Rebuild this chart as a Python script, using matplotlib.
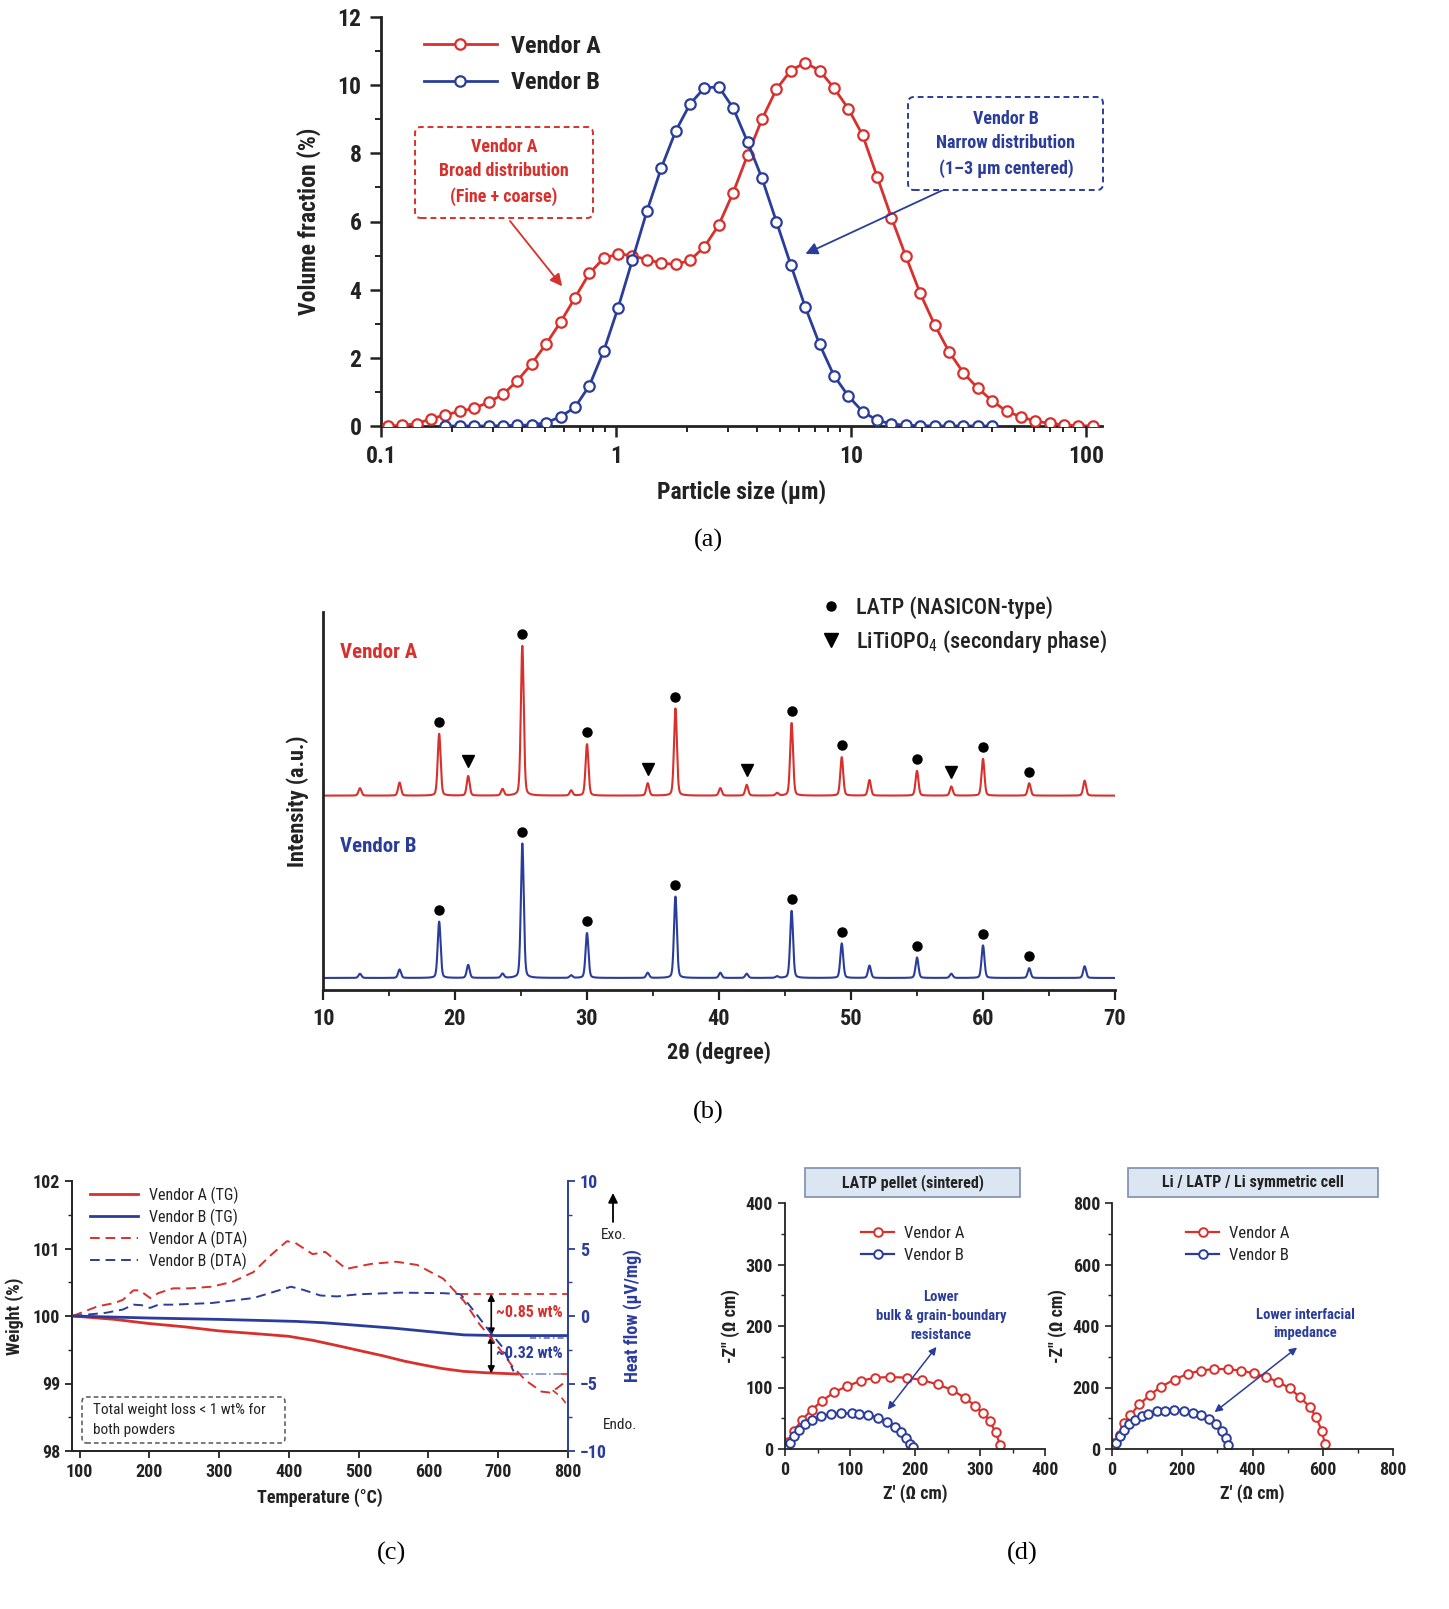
import numpy as np
import matplotlib
matplotlib.use("Agg")
import matplotlib.pyplot as plt
from matplotlib import font_manager
from matplotlib.patches import FancyBboxPatch, Rectangle
from matplotlib.lines import Line2D
from matplotlib.ticker import MultipleLocator, LogLocator, NullFormatter

# ---------------- fonts ----------------
_names = {f.name for f in font_manager.fontManager.ttflist}
SANS = next((n for n in ["Roboto Condensed", "Liberation Sans Narrow", "Roboto", "Liberation Sans", "DejaVu Sans"] if n in _names), "DejaVu Sans")
SERIF = next((n for n in ["Liberation Serif", "DejaVu Serif"] if n in _names), "DejaVu Serif")
plt.rcParams["font.family"] = [SANS, "DejaVu Sans"]
plt.rcParams["mathtext.fontset"] = "custom"
plt.rcParams["mathtext.rm"] = SANS

RED = "#d8302c"
BLUE = "#2b3d9b"
DARK = "#222222"

# ---------------- data (a) particle size distribution ----------------
size_um = np.geomspace(0.107, 107, 50)
vendorA_vol = [0.0, 0.02, 0.07, 0.21, 0.33, 0.43, 0.52, 0.70, 0.93, 1.33,
               1.83, 2.41, 3.05, 3.76, 4.48, 4.92, 5.05, 5.00, 4.88, 4.78,
               4.74, 4.86, 5.26, 5.90, 6.85, 7.95, 9.00, 9.88, 10.43, 10.66,
               10.43, 9.92, 9.31, 8.53, 7.32, 6.11, 4.98, 3.89, 2.97, 2.18,
               1.56, 1.11, 0.74, 0.43, 0.27, 0.14, 0.08, 0.03, 0.01, 0.0]
vendorB_vol = [np.nan, np.nan, np.nan, np.nan, 0.0, 0.0, 0.0, 0.0, 0.01, 0.02,
               0.03, 0.10, 0.27, 0.55, 1.18, 2.20, 3.47, 4.88, 6.30, 7.57,
               8.65, 9.45, 9.92, 9.95, 9.33, 8.33, 7.27, 6.00, 4.73, 3.50,
               2.40, 1.48, 0.88, 0.42, 0.17, 0.06, 0.02, 0.01, 0.0, 0.0,
               0.0, 0.0, 0.0, np.nan, np.nan, np.nan, np.nan, np.nan, np.nan, np.nan]

# ---------------- data (b) XRD ----------------
peak_2theta = [12.8, 15.8, 18.8, 21.0, 23.6, 25.1, 28.8, 30.0, 34.6, 36.7, 40.1,
               42.1, 44.4, 45.5, 49.3, 51.4, 55.0, 57.6, 60.0, 63.5, 67.7]
peak_A = [23, 40, 190, 60, 20, 460, 16, 158, 38, 268, 23,
          33, 8, 223, 118, 48, 76, 28, 113, 38, 46]
peak_B = [13, 26, 173, 40, 13, 413, 8, 138, 16, 250, 16,
          13, 5, 206, 106, 38, 63, 13, 100, 30, 36]
latp_peaks = [18.8, 25.1, 30.0, 36.7, 45.5, 49.3, 55.0, 60.0, 63.5]
litiopo4_peaks = [21.0, 34.6, 42.1, 57.6]
offset_A = 560

# ---------------- data (c) TG / DTA ----------------
T_tgA = [90, 150, 198, 250, 299, 350, 399, 434, 470, 500, 535, 566, 595, 621, 650, 681, 705, 728]
W_tgA = [100.0, 99.95, 99.89, 99.84, 99.78, 99.74, 99.70, 99.64, 99.56, 99.49, 99.41, 99.33, 99.27, 99.22, 99.18, 99.16, 99.15, 99.14]
T_tgB = [90, 200, 300, 410, 450, 500, 550, 590, 620, 651, 699, 750, 800]
W_tgB = [100.0, 99.97, 99.95, 99.92, 99.90, 99.86, 99.82, 99.78, 99.75, 99.72, 99.71, 99.71, 99.71]
T_dtaA = [90, 108, 126, 150, 162, 177, 186, 201, 213, 234, 258, 289, 319, 349, 373, 397, 409,
          434, 452, 482, 518, 554, 584, 621, 651, 673, 690, 706, 720, 739, 762, 774, 784, 793, 800]
H_dtaA = [0.0, 0.36, 0.72, 0.96, 1.2, 1.9, 1.9, 1.33, 1.7, 2.05, 2.05, 2.17, 2.53, 3.25, 4.46, 5.54, 5.42,
          4.58, 4.75, 3.49, 3.86, 4.02, 3.78, 2.77, 1.1, -0.6, -1.67, -2.7, -3.7, -4.76, -5.6, -5.67, -5.36, -5.0, -4.83]
T_dtaA_branch = [778, 790, 800]
H_dtaA_branch = [-5.5, -6.0, -6.67]
T_dtaB = [90, 138, 162, 177, 189, 201, 213, 234, 289, 349, 379, 403, 421, 445, 469, 500,
          560, 621, 646, 669, 690, 706, 722]
H_dtaB = [0.0, 0.24, 0.48, 0.84, 0.8, 0.6, 0.84, 0.84, 0.96, 1.33, 1.8, 2.17, 1.93, 1.52, 1.45, 1.61,
          1.73, 1.69, 1.62, 0.12, -1.3, -2.3, -4.1]
ref_level_dta = 1.64
loss_A_label = "~0.85 wt%"
loss_B_label = "~0.32 wt%"

# ---------------- data (d) impedance ----------------
pel_A_re = [0, 5, 14, 26, 41, 57, 75, 95, 117, 139, 162, 188, 211, 235, 257, 277, 293, 305, 315, 324, 331]
pel_A_im = [0, 12, 30, 47, 64, 78, 92, 102, 111, 116, 117, 116, 112, 105, 96, 83, 70, 58, 46, 27, 7]
pel_B_re = [1, 7, 14, 22, 31, 41, 55, 70, 86, 103, 114, 128, 143, 157, 169, 179, 186, 193, 197]
pel_B_im = [1, 10, 21, 31, 41, 47, 53, 57, 58, 58, 57, 55, 51, 44, 36, 28, 18, 8, 3]
sym_A_re = [4, 7, 22, 35, 51, 78, 109, 140, 178, 215, 252, 290, 329, 367, 404, 439, 474, 507, 535, 563, 581, 598, 606]
sym_A_im = [5, 21, 47, 83, 109, 145, 177, 203, 226, 244, 255, 260, 260, 255, 246, 234, 218, 197, 168, 137, 104, 57, 16]
sym_B_re = [4, 10, 22, 35, 47, 66, 84, 103, 128, 152, 177, 205, 230, 252, 277, 296, 312, 324, 329]
sym_B_im = [2, 21, 42, 62, 81, 94, 106, 114, 122, 125, 127, 125, 117, 109, 97, 80, 59, 36, 12]

# ---------------- figure ----------------
W, H = 1449, 1609
fig = plt.figure(figsize=(W / 100, H / 100), dpi=100)
fig.patch.set_facecolor("white")


def fx(x):
    return x / W


def fy(y):
    return 1 - y / H


def rect(l, t, r, b):
    return [fx(l), fy(b), fx(r) - fx(l), fy(t) - fy(b)]


def style_axes(ax, lw=1.6, color=DARK):
    for s in ["top", "right"]:
        ax.spines[s].set_visible(False)
    for s in ["left", "bottom"]:
        ax.spines[s].set_linewidth(lw)
        ax.spines[s].set_color(color)


# ===== (a) =====
axa = fig.add_axes(rect(381, 17, 1102, 426))
style_axes(axa, lw=2.0)
axa.plot(size_um, vendorA_vol, "-o", color=RED, lw=2.0, ms=7.5, mfc="white", mew=1.6, label="Vendor A", zorder=3)
axa.plot(size_um, vendorB_vol, "-o", color=BLUE, lw=2.0, ms=7.5, mfc="white", mew=1.6, label="Vendor B", zorder=4)
axa.set_xscale("log")
axa.set_xlim(0.1, 117)
axa.set_ylim(0, 12)
axa.yaxis.set_major_locator(MultipleLocator(2))
axa.yaxis.set_minor_locator(MultipleLocator(1))
axa.xaxis.set_minor_locator(LogLocator(base=10, subs=np.arange(2, 10), numticks=20))
axa.xaxis.set_minor_formatter(NullFormatter())
axa.set_xticks([0.1, 1, 10, 100])
axa.set_xticklabels(["0.1", "1", "10", "100"])
axa.tick_params(axis="both", which="major", length=8, width=1.8, labelsize=17, pad=6, colors=DARK)
axa.tick_params(axis="both", which="minor", length=4.5, width=1.4, colors=DARK)
for lab in axa.get_xticklabels() + axa.get_yticklabels():
    lab.set_fontweight("bold")
axa.set_xlabel("Particle size (µm)", fontsize=17, fontweight="bold", labelpad=8, color=DARK)
axa.set_ylabel("Volume fraction (%)", fontsize=17, fontweight="bold", labelpad=12, color=DARK)
leg = axa.legend(loc="upper left", bbox_to_anchor=(fx(402), fy(13)), bbox_transform=fig.transFigure,
                 frameon=False, fontsize=17.5, handlelength=3.0, handletextpad=0.6, labelspacing=0.55)
for t in leg.get_texts():
    t.set_fontweight("bold")
    t.set_color(DARK)

# annotation boxes
for (l, t, r, b, col) in [(415, 127, 593, 218, RED), (908, 97, 1103, 190, BLUE)]:
    p = FancyBboxPatch((fx(l), fy(b)), fx(r) - fx(l), fy(t) - fy(b),
                       boxstyle="round,pad=0,rounding_size=0.004", transform=fig.transFigure,
                       fc="white", ec=col, lw=1.4, ls=(0, (3, 2)), zorder=5)
    fig.add_artist(p)
fig.text(fx(504), fy(172), "Vendor A\nBroad distribution\n(Fine + coarse)", ha="center", va="center",
         fontsize=13, fontweight="bold", color=RED, linespacing=1.45, zorder=6)
fig.text(fx(1006), fy(144), "Vendor B\nNarrow distribution\n(1–3 µm centered)", ha="center", va="center",
         fontsize=13, fontweight="bold", color=BLUE, linespacing=1.45, zorder=6)
axa.annotate("", xy=(0.59, 4.1), xycoords="data", xytext=(fx(510), fy(221)), textcoords="figure fraction",
             arrowprops=dict(arrowstyle="-|>", color=RED, lw=1.3, mutation_scale=18, shrinkA=0, shrinkB=0))
axa.annotate("", xy=(6.4, 5.05), xycoords="data", xytext=(fx(943), fy(190)), textcoords="figure fraction",
             arrowprops=dict(arrowstyle="-|>", color=BLUE, lw=1.3, mutation_scale=18, shrinkA=0, shrinkB=0))

# ===== (b) =====
axb = fig.add_axes(rect(323, 612, 1115, 990))
style_axes(axb, lw=2.0)
tt = np.linspace(10, 70, 6000)


def pattern(heights):
    y = np.zeros_like(tt)
    for c, h in zip(peak_2theta, heights):
        w = 0.13
        lor = 1 / (1 + ((tt - c) / w) ** 2)
        gau = np.exp(-np.log(2) * ((tt - c) / w) ** 2)
        y += h * (0.25 * lor + 0.75 * gau)
    return y


yA = pattern(peak_A) + offset_A
yB = pattern(peak_B)
axb.plot(tt, yA, color=RED, lw=1.5)
axb.plot(tt, yB, color=BLUE, lw=1.5)
for c in latp_peaks:
    i = peak_2theta.index(c)
    axb.plot(c, peak_A[i] + offset_A + 36, "o", color="black", ms=6.5)
    axb.plot(c, peak_B[i] + 36, "o", color="black", ms=6.5)
for c in litiopo4_peaks:
    i = peak_2theta.index(c)
    axb.plot(c, peak_A[i] + offset_A + 45, "v", color="black", ms=8.5)
axb.set_xlim(10, 70)
axb.set_ylim(-37, 1124)
axb.set_yticks([])
axb.xaxis.set_major_locator(MultipleLocator(10))
axb.xaxis.set_minor_locator(MultipleLocator(5))
axb.tick_params(axis="x", which="major", length=7, width=1.6, labelsize=16, pad=6, colors=DARK)
axb.tick_params(axis="x", which="minor", length=4, width=1.3, colors=DARK)
for lab in axb.get_xticklabels():
    lab.set_fontweight("bold")
axb.set_xlabel("2θ (degree)", fontsize=16, fontweight="bold", labelpad=8, color=DARK)
axb.set_ylabel("Intensity (a.u.)", fontsize=16, fontweight="bold", labelpad=10, color=DARK)
axb.text(fx(340), fy(653), "Vendor A", transform=fig.transFigure, fontsize=15, fontweight="bold",
         color=RED, va="center", ha="left")
axb.text(fx(340), fy(846), "Vendor B", transform=fig.transFigure, fontsize=15, fontweight="bold",
         color=BLUE, va="center", ha="left")
hb = [Line2D([], [], ls="none", marker="o", color="black", ms=6.5),
      Line2D([], [], ls="none", marker="v", color="black", ms=9.5)]
legb = axb.legend(hb, ["LATP (NASICON-type)", "LiTiOPO$_4$ (secondary phase)"], loc="upper left",
                  bbox_to_anchor=(fx(800), fy(576)), bbox_transform=fig.transFigure, frameon=False,
                  fontsize=16, handlelength=1.0, handletextpad=0.6, labelspacing=0.45)
for t in legb.get_texts():
    t.set_fontweight("medium")
    t.set_color(DARK)

# ===== (c) =====
axc = fig.add_axes(rect(72, 1181, 568, 1451))
axc.spines["top"].set_visible(False)
axc.spines["right"].set_visible(False)
for s in ["left", "bottom"]:
    axc.spines[s].set_linewidth(1.4)
    axc.spines[s].set_color(DARK)
axc2 = axc.twinx()
for s in ["top", "left", "bottom"]:
    axc2.spines[s].set_visible(False)
axc2.spines["right"].set_color(BLUE)
axc2.spines["right"].set_linewidth(1.4)

lA, = axc.plot(T_tgA, W_tgA, color=RED, lw=2.0, label="Vendor A (TG)")
lB, = axc.plot(T_tgB, W_tgB, color=BLUE, lw=2.0, label="Vendor B (TG)")
dA, = axc2.plot(T_dtaA, H_dtaA, color=RED, lw=1.4, ls=(0, (5, 3)), label="Vendor A (DTA)")
axc2.plot(T_dtaA_branch, H_dtaA_branch, color=RED, lw=1.2, ls=(0, (4, 3)))
dB, = axc2.plot(T_dtaB, H_dtaB, color=BLUE, lw=1.4, ls=(0, (5, 3)), label="Vendor B (DTA)")
axc2.plot([646, 800], [ref_level_dta, ref_level_dta], color=RED, lw=1.3, ls=(0, (4, 3)))
axc.plot([T_tgA[-1], 790], [W_tgA[-1], W_tgA[-1]], color="#7f8fcf", lw=1.2, ls="-.")
axc.plot([790, 800], [W_tgA[-1], W_tgA[-1]], color=RED, lw=1.2, ls="--")
axc.plot([745, 800], [99.67, 99.67], color="#5565b5", lw=1.1, ls=(0, (4, 2, 1, 2)))

axc.set_xlim(89, 800)
axc.set_ylim(98, 102)
axc2.set_ylim(-10, 10)
axc.xaxis.set_major_locator(MultipleLocator(100))
axc.yaxis.set_major_locator(MultipleLocator(1))
axc.yaxis.set_minor_locator(MultipleLocator(0.5))
axc2.yaxis.set_major_locator(MultipleLocator(5))
axc2.yaxis.set_minor_locator(MultipleLocator(2.5))
axc.tick_params(axis="both", which="major", length=5, width=1.3, labelsize=13, colors=DARK)
axc.tick_params(axis="both", which="minor", length=3, width=1.0, colors=DARK)
axc2.tick_params(axis="y", which="major", length=5, width=1.3, labelsize=13, colors=BLUE)
axc2.tick_params(axis="y", which="minor", length=3, width=1.0, colors=BLUE)
for lab in axc.get_xticklabels() + axc.get_yticklabels():
    lab.set_fontweight("bold")
for lab in axc2.get_yticklabels():
    lab.set_fontweight("bold")
axc.set_xlabel("Temperature (°C)", fontsize=13, fontweight="bold", labelpad=5, color=DARK)
axc.set_ylabel("Weight (%)", fontsize=13, fontweight="bold", labelpad=6, color=DARK)
axc2.set_ylabel("Heat flow (µV/mg)", fontsize=13, fontweight="bold", color=BLUE, labelpad=12)
legc = axc.legend([lA, lB, dA, dB], [h.get_label() for h in [lA, lB, dA, dB]], loc="upper left",
                  bbox_to_anchor=(fx(76), fy(1172)), bbox_transform=fig.transFigure, frameon=False,
                  fontsize=11.5, handlelength=3.0, handletextpad=0.7, labelspacing=0.3)
for t in legc.get_texts():
    t.set_color(DARK)
# weight-loss arrows
axc.annotate("", xy=(690, 99.71), xytext=(690, 100.33),
             arrowprops=dict(arrowstyle="<|-|>", color="black", lw=1.2, mutation_scale=10, shrinkA=0, shrinkB=0))
axc.annotate("", xy=(690, 99.15), xytext=(690, 99.71),
             arrowprops=dict(arrowstyle="<|-|>", color="black", lw=1.2, mutation_scale=10, shrinkA=0, shrinkB=0))
axc.text(697, 100.05, loss_A_label, color=RED, fontsize=11.5, fontweight="bold", va="center", ha="left")
axc.text(697, 99.45, loss_B_label, color=BLUE, fontsize=11.5, fontweight="bold", va="center", ha="left")
pc = FancyBboxPatch((fx(82), fy(1443)), fx(285) - fx(82), fy(1397) - fy(1443),
                    boxstyle="round,pad=0,rounding_size=0.003", transform=fig.transFigure,
                    fc="white", ec="#555555", lw=1.1, ls=(0, (3, 2)))
fig.add_artist(pc)
fig.text(fx(93), fy(1420), "Total weight loss < 1 wt% for\nboth powders", fontsize=11, color=DARK,
         ha="left", va="center", linespacing=1.5)
axc.annotate("", xy=(fx(613), fy(1193)), xytext=(fx(613), fy(1222)), xycoords="figure fraction",
             textcoords="figure fraction",
             arrowprops=dict(arrowstyle="-|>", color="black", lw=1.3, mutation_scale=14, shrinkA=0, shrinkB=0))
fig.text(fx(614), fy(1235), "Exo.", fontsize=11, ha="center", va="center", color=DARK)
fig.text(fx(620), fy(1425), "Endo.", fontsize=11, ha="center", va="center", color=DARK)


# ===== (d) =====
def nyquist(ax, title_box, title, reA, imA, reB, imB, xmax, ymax, step, minor,
            leg_anchor, note, note_xy, arr_from, arr_to):
    ax.plot(reA, imA, "-o", color=RED, lw=1.6, ms=6.2, mfc="white", mew=1.4, label="Vendor A")
    ax.plot(reB, imB, "-o", color=BLUE, lw=1.6, ms=6.2, mfc="white", mew=1.4, label="Vendor B")
    style_axes(ax, lw=1.3)
    ax.set_xlim(0, xmax)
    ax.set_ylim(0, ymax)
    ax.xaxis.set_major_locator(MultipleLocator(step))
    ax.yaxis.set_major_locator(MultipleLocator(step))
    ax.xaxis.set_minor_locator(MultipleLocator(minor))
    ax.yaxis.set_minor_locator(MultipleLocator(minor))
    ax.tick_params(axis="both", which="major", length=5, width=1.2, labelsize=13, colors=DARK)
    ax.tick_params(axis="both", which="minor", length=3, width=1.0, colors=DARK)
    for lab in ax.get_xticklabels() + ax.get_yticklabels():
        lab.set_fontweight("bold")
    ax.set_xlabel("Z' (Ω cm)", fontsize=13, fontweight="bold", labelpad=4, color=DARK)
    ax.set_ylabel('-Z" (Ω cm)', fontsize=13, fontweight="bold", labelpad=4, color=DARK)
    l, t, r, b = title_box
    fig.add_artist(Rectangle((fx(l), fy(b)), fx(r) - fx(l), fy(t) - fy(b), transform=fig.transFigure,
                             fc="#dce6f2", ec="#7d8fae", lw=1.2))
    fig.text(fx((l + r) / 2), fy((t + b) / 2), title, ha="center", va="center", fontsize=11.5,
             fontweight="bold", color=DARK)
    lg = ax.legend(loc="upper left", bbox_to_anchor=leg_anchor, bbox_transform=fig.transFigure,
                   frameon=False, fontsize=12, handlelength=2.0, handletextpad=0.6, labelspacing=0.4)
    for t_ in lg.get_texts():
        t_.set_color(DARK)
    fig.text(fx(note_xy[0]), fy(note_xy[1]), note, ha="center", va="center", fontsize=10.5,
             fontweight="bold", color=BLUE, linespacing=1.45)
    ax.annotate("", xy=arr_to, xytext=arr_from, xycoords="data", textcoords="data",
                arrowprops=dict(arrowstyle="<|-|>", color=BLUE, lw=1.1, mutation_scale=11, shrinkA=0, shrinkB=0))


axd1 = fig.add_axes(rect(785, 1203, 1045, 1449))
nyquist(axd1, (805, 1168, 1020, 1197), "LATP pellet (sintered)", pel_A_re, pel_A_im, pel_B_re, pel_B_im,
        400, 400, 100, 50, (fx(846), fy(1211)), "Lower\nbulk & grain-boundary\nresistance", (941, 1316),
        (158, 64), (233, 166))
axd2 = fig.add_axes(rect(1112, 1203, 1393, 1449))
nyquist(axd2, (1128, 1168, 1378, 1197), "Li / LATP / Li symmetric cell", sym_A_re, sym_A_im, sym_B_re, sym_B_im,
        800, 800, 200, 100, (fx(1171), fy(1211)), "Lower interfacial\nimpedance", (1305, 1324),
        (292, 120), (527, 330))

# captions
for txt, x, y in [("(a)", 708, 540), ("(b)", 708, 1112), ("(c)", 392, 1553), ("(d)", 1022, 1553)]:
    fig.text(fx(x), fy(y), txt, ha="center", va="center", fontsize=19, family=SERIF, color="black")

fig.savefig("out.png", dpi=100, facecolor="white")
